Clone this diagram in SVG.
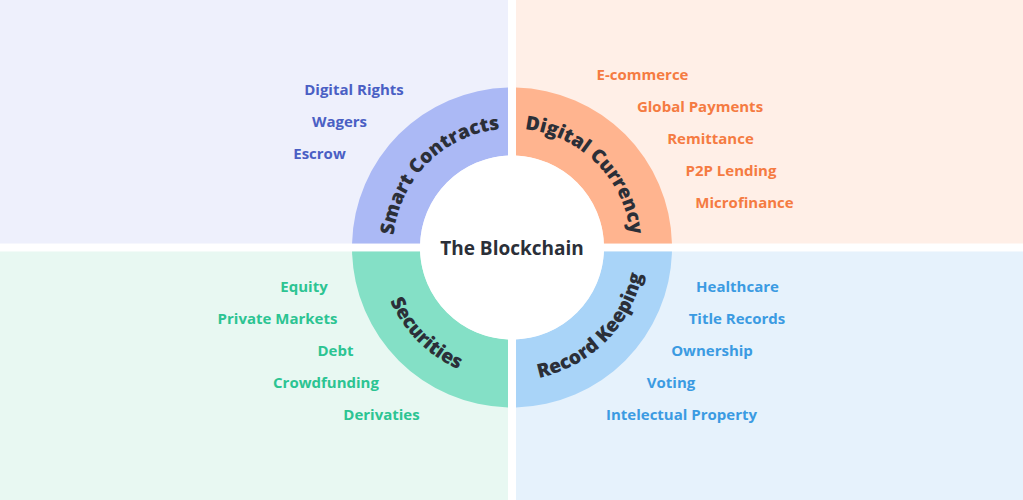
<svg xmlns="http://www.w3.org/2000/svg" width="1023" height="500" viewBox="0 0 1023 500">
<style>
text { font-family: "Open Sans", "Liberation Sans", sans-serif; font-weight: 700; }
.item { font-size: 15px; text-anchor: middle; }
.seg { font-size: 19.3px; font-weight: 800; fill: #2b2f38; }
.sc { fill: #4a5fc4; }
.dc { fill: #f57b42; }
.se { fill: #2cc492; }
.rk { fill: #3b9be2; }
</style>
<defs>
<path id="arcTL" d="M393,247.5 A119,119 0 0 1 512,128.5"/>
<path id="arcTR" d="M512,128.5 A119,119 0 0 1 631,247.5"/>
<path id="arcBL" d="M379,247.5 A133,133 0 0 0 512,380.5"/>
<path id="arcBR" d="M512,380.5 A133,133 0 0 0 645,247.5"/>
</defs>
<rect width="1023" height="500" fill="#ffffff"/>
<rect x="0" y="0" width="508" height="243.5" fill="#eef0fc"/>
<rect x="516" y="0" width="507" height="243.5" fill="#ffefe7"/>
<rect x="0" y="251.5" width="508" height="248.5" fill="#e8f8f2"/>
<rect x="516" y="251.5" width="507" height="248.5" fill="#e6f2fc"/>

<g id="smart-contracts">
<path d="M352.05,243.5 A160,160 0 0 1 508,87.55 L508,155.59 A92,92 0 0 0 420.09,243.5 Z" fill="#abb9f5"/>
<text class="seg"><textPath href="#arcTL" startOffset="50%" text-anchor="middle">Smart Contracts</textPath></text>
<text class="item sc" x="354" y="95">Digital Rights</text>
<text class="item sc" x="339.5" y="127">Wagers</text>
<text class="item sc" x="319.5" y="159">Escrow</text>
</g>

<g id="digital-currency">
<path d="M516,87.55 A160,160 0 0 1 671.95,243.5 L603.91,243.5 A92,92 0 0 0 516,155.59 Z" fill="#ffb48f"/>
<text class="seg"><textPath href="#arcTR" startOffset="50%" text-anchor="middle">Digital Currency</textPath></text>
<text class="item dc" x="642.5" y="80">E-commerce</text>
<text class="item dc" x="700" y="112">Global Payments</text>
<text class="item dc" x="710.5" y="144">Remittance</text>
<text class="item dc" x="731" y="176">P2P Lending</text>
<text class="item dc" x="744.5" y="208">Microfinance</text>
</g>

<g id="securities">
<path d="M352.05,251.5 A160,160 0 0 0 508,407.45 L508,339.41 A92,92 0 0 1 420.09,251.5 Z" fill="#84e0c6"/>
<text class="seg"><textPath href="#arcBL" startOffset="50%" text-anchor="middle">Securities</textPath></text>
<text class="item se" x="304" y="292">Equity</text>
<text class="item se" x="277.5" y="324">Private Markets</text>
<text class="item se" x="335.5" y="356">Debt</text>
<text class="item se" x="326" y="388">Crowdfunding</text>
<text class="item se" x="381.5" y="420">Derivaties</text>
</g>

<g id="record-keeping">
<path d="M516,407.45 A160,160 0 0 0 671.95,251.5 L603.91,251.5 A92,92 0 0 1 516,339.41 Z" fill="#a9d4f8"/>
<text class="seg"><textPath href="#arcBR" startOffset="50%" text-anchor="middle">Record Keeping</textPath></text>
<text class="item rk" x="737.5" y="292">Healthcare</text>
<text class="item rk" x="737" y="324">Title Records</text>
<text class="item rk" x="712" y="356">Ownership</text>
<text class="item rk" x="671" y="388">Voting</text>
<text class="item rk" x="681.5" y="420">Intelectual Property</text>
</g>

<g id="the-blockchain">
<circle cx="512" cy="247.5" r="92" fill="#ffffff"/>
<text x="512" y="255" font-size="19" text-anchor="middle" fill="#2b2f38">The Blockchain</text>
</g>
</svg>
